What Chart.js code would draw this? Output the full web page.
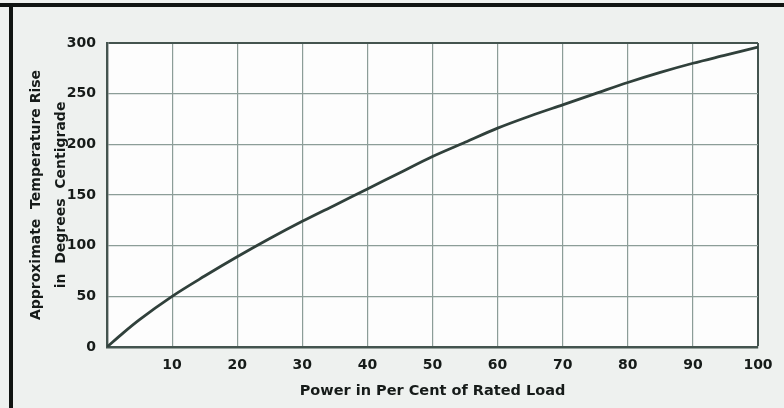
<!DOCTYPE html>
<html>
<head>
<meta charset="utf-8">
<script src="https://cdn.jsdelivr.net/npm/chart.js@4/dist/chart.umd.min.js"></script>
<style>
  html, body { margin: 0; padding: 0; background: #eef1ef; }
  #wrap { width: 784px; height: 408px; position: relative; }
</style>
</head>
<body>
<div id="wrap"><canvas id="c" width="784" height="408"></canvas></div>
<script>
// Load as a percentage of the rated load
const loadPct = [0, 2.5, 5, 10, 15, 20, 25, 30, 35, 40, 45, 50, 55, 60, 65, 70, 75, 80, 85, 90, 95, 100];
// Approximate temperature rise, degrees centigrade
const tempRise = [0, 14, 27, 50, 70, 89, 107, 124, 140, 156, 172, 188, 202, 216, 228, 239, 250, 261, 271, 280, 288, 296];

const xTicks = [10, 20, 30, 40, 50, 60, 70, 80, 90, 100];
const yTicks = [0, 50, 100, 150, 200, 250, 300];

const xTitle = 'Power in Per Cent of Rated Load';
const yTitle = ['Approximate  Temperature Rise', 'in  Degrees  Centigrade'];

const ink = '#161b19';
const gridColor = '#8c9d98';
const edgeColor = '#44544f';
const curveColor = '#30403b';

// Paper background, white plot field and the dark frame edges
const paper = {
  id: 'paper',
  beforeDraw(chart) {
    const { ctx, chartArea: a, width, height } = chart;
    ctx.save();
    ctx.fillStyle = '#eef1ef';
    ctx.fillRect(0, 0, width, height);
    ctx.fillStyle = '#fdfdfd';
    ctx.fillRect(a.left, a.top, a.right - a.left, a.bottom - a.top);
    ctx.fillStyle = '#101412';
    ctx.fillRect(0, 3, width, 4);
    ctx.fillRect(9, 3, 4, height - 3);
    ctx.restore();
  }
};

new Chart(document.getElementById('c'), {
  type: 'line',
  data: {
    datasets: [{
      data: loadPct.map((x, i) => ({ x, y: tempRise[i] })),
      borderColor: curveColor,
      borderWidth: 2.8,
      pointRadius: 0,
      cubicInterpolationMode: 'monotone',
      fill: false
    }]
  },
  options: {
    responsive: false,
    animation: false,
    layout: { padding: { left: 0, top: 43, right: 26, bottom: 0 } },
    plugins: { legend: { display: false }, tooltip: { enabled: false } },
    scales: {
      x: {
        type: 'linear',
        min: 0, max: 100,
        afterFit(s) { s.height = 61; },
        afterBuildTicks(s) { s.ticks = xTicks.map(v => ({ value: v })); },
        ticks: {
          color: ink, padding: 10,
          font: { family: 'DejaVu Sans', size: 14, weight: 'bold' },
          maxRotation: 0, autoSkip: false
        },
        grid: {
          drawTicks: false,
          color: c => c.tick && c.tick.value === 100 ? edgeColor : gridColor,
          lineWidth: c => c.tick && c.tick.value === 100 ? 2 : 1.2
        },
        border: { color: edgeColor, width: 2.4 },
        title: {
          display: true, text: xTitle, color: ink,
          font: { family: 'DejaVu Sans', size: 14.5, weight: 'bold' },
          padding: { top: 0, bottom: 8 }
        }
      },
      y: {
        min: 0, max: 300,
        afterFit(s) { s.width = 107; },
        afterBuildTicks(s) { s.ticks = yTicks.map(v => ({ value: v })); },
        ticks: {
          color: ink, padding: 11,
          font: { family: 'DejaVu Sans', size: 14, weight: 'bold' }
        },
        grid: {
          drawTicks: false,
          color: c => c.tick && c.tick.value === 300 ? edgeColor : gridColor,
          lineWidth: c => c.tick && c.tick.value === 300 ? 2 : 1.2
        },
        border: { color: edgeColor, width: 2.4 },
        title: {
          display: true, text: yTitle, color: ink,
          font: { family: 'DejaVu Sans', size: 14, weight: 'bold', lineHeight: '25px' },
          padding: { top: 24, bottom: 0 }
        }
      }
    }
  },
  plugins: [paper]
});
</script>
</body>
</html>
